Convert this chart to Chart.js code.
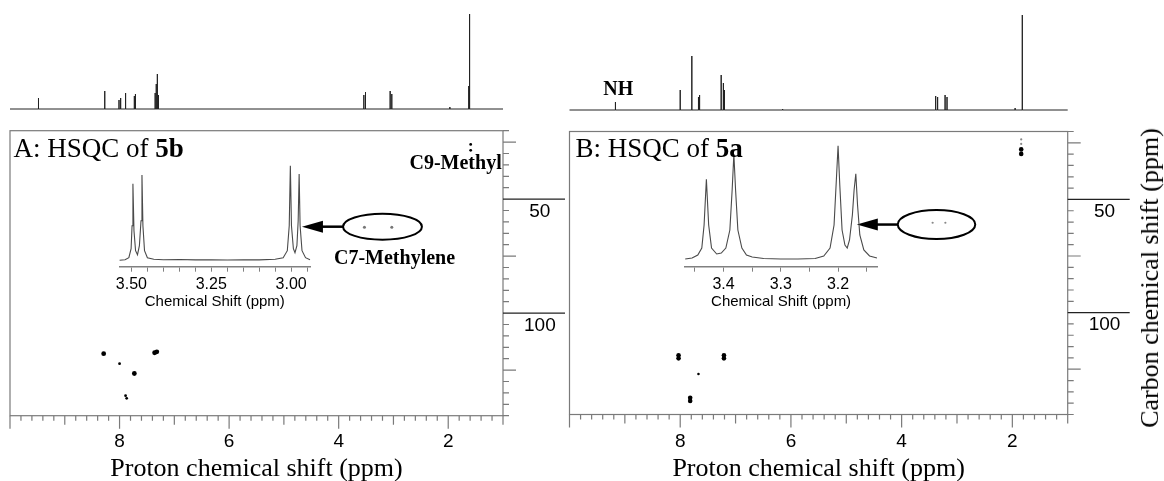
<!DOCTYPE html>
<html>
<head>
<meta charset="utf-8">
<script src="https://cdn.jsdelivr.net/npm/chart.js@4.4.0/dist/chart.umd.min.js"></script>
<style>
  body { margin: 0; background: #fff; width: 1164px; height: 481px; position: relative; overflow: hidden; }
  canvas { position: absolute; }
  .lbl { position: absolute; font-family: 'Liberation Serif', 'Times New Roman', serif; color: #000; white-space: nowrap; line-height: 1; }
  .bold { font-weight: bold; }
</style>
</head>
<body>
<canvas id="topA" style="left:0;top:0" width="580" height="120"></canvas>
<canvas id="topB" style="left:560px;top:0" width="585" height="120"></canvas>
<canvas id="hsqcA" style="left:0;top:119px" width="580" height="362"></canvas>
<canvas id="hsqcB" style="left:560px;top:119px" width="585" height="362"></canvas>
<canvas id="insetA" style="left:100px;top:150px" width="230" height="162"></canvas>
<canvas id="insetB" style="left:670px;top:130px" width="225" height="182"></canvas>

<div class="lbl" style="left:13.6px;top:134.6px;font-size:27px">A: HSQC of <span class="bold">5b</span></div>
<div class="lbl" style="left:575.4px;top:134.6px;font-size:27px">B: HSQC of <span class="bold">5a</span></div>
<div class="lbl bold" style="right:662.3px;top:152.2px;font-size:20px">C9-Methyl</div>
<div class="lbl bold" style="left:334px;top:246.6px;font-size:20px">C7-Methylene</div>
<div class="lbl bold" style="left:603.3px;top:78.2px;font-size:20px">NH</div>
<div class="lbl" style="left:1149.5px;top:277.5px;font-size:26px;transform:translate(-50%,-50%) rotate(-90deg)">Carbon chemical shift (ppm)</div>

<script>
// 1D proton spectra above the HSQC maps (ppm, peak height)
const specAShift = [9.48, 8.27, 8.01, 7.98, 7.89, 7.73, 7.71, 7.35, 7.33, 7.31, 7.29, 3.54, 3.51, 3.06, 3.03, 1.97, 1.625, 1.61];
const specAHeight = [11, 18, 9, 11, 16, 13, 15, 16, 25, 35, 14, 14, 17, 18, 15, 2, 23, 95];
const specBShift = [9.17, 8.00, 7.79, 7.67, 7.65, 7.26, 7.22, 7.20, 6.15, 3.385, 3.35, 3.215, 3.18, 1.95, 1.82];
const specBHeight = [8, 20, 54, 13, 15, 35, 27, 20, 1, 14, 13, 15, 13, 2, 95];

// HSQC cross peaks [1H ppm, 13C ppm]
const hsqcAStrong = [[8.29, 117.8], [7.73, 126.5], [7.36, 117.4], [7.32, 117.0]];
const hsqcAWeak = [[8.00, 122.2], [7.89, 136.2], [7.87, 137.4], [1.59, 28.6], [1.59, 26.0]];
const hsqcAGrey = [[3.53, 62.3], [3.03, 62.3]];
const hsqcBStrong = [[8.03, 118.8], [8.03, 120.2], [7.21, 118.8], [7.21, 120.2], [7.82, 137.6], [7.82, 139.0], [1.84, 27.9], [1.84, 29.9]];
const hsqcBWeak = [[7.67, 127.1]];
const hsqcBGrey = [[1.84, 23.5], [1.84, 25.5], [3.44, 60.3], [3.21, 60.3]];

// circled C7 region and arrow target (ppm)
const circleA = { h: 3.20, c: 62.1, dh: 0.72, dc: 5.7, arrowTo: 4.67 };
const circleB = { h: 3.37, c: 61.1, dh: 0.70, dc: 6.4, arrowTo: 4.81 };

// expanded methylene region insets (ppm, intensity)
const insetAShift = [3.537, 3.52, 3.508, 3.501, 3.498, 3.4953, 3.492, 3.487, 3.481, 3.475, 3.470, 3.467, 3.464, 3.459, 3.45, 3.43, 3.40, 3.35, 3.30, 3.25, 3.20, 3.15, 3.10, 3.05, 3.025, 3.012, 3.006, 3.0025, 2.999, 2.993, 2.988, 2.982, 2.978, 2.975, 2.972, 2.966, 2.955, 2.941];
const insetAInt = [0.5, 1, 3, 12, 35, 77, 30, 10, 6, 15, 40, 85.7, 35, 10, 3, 1.5, 1, 1.2, 0.8, 1, 0.7, 1, 0.8, 1.5, 3, 10, 35, 95, 35, 12, 8, 15, 40, 86.7, 35, 10, 3, 1];
const insetBShift = [3.467, 3.455, 3.445, 3.438, 3.434, 3.430, 3.426, 3.421, 3.412, 3.404, 3.396, 3.389, 3.385, 3.382, 3.379, 3.375, 3.368, 3.36, 3.35, 3.33, 3.30, 3.27, 3.24, 3.225, 3.214, 3.207, 3.203, 3.200, 3.197, 3.193, 3.188, 3.184, 3.180, 3.175, 3.172, 3.169, 3.166, 3.162, 3.155, 3.145, 3.132];
const insetBInt = [1, 2, 5, 12, 35, 80.7, 35, 12, 6, 7, 12, 30, 70, 105.7, 70, 30, 12, 5, 3, 1.5, 1, 1, 1.5, 4, 12, 35, 80, 114.3, 75, 30, 15, 12, 20, 45, 70, 86.3, 55, 25, 10, 4, 2];

const SANS = "'Liberation Sans', Arial, sans-serif";
const SERIF = "'Liberation Serif', 'Times New Roman', serif";
Chart.defaults.font.family = SANS;
Chart.defaults.color = '#000';
Chart.defaults.animation = false;
Chart.defaults.plugins.legend.display = false;
Chart.defaults.plugins.tooltip.enabled = false;

const toPts = arr => arr.map(p => ({ x: p[0], y: p[1] }));

// stick spectrum: baseline with a vertical line per peak
function sticks(shift, height) {
  const pts = [{ x: 10, y: 0 }];
  shift.forEach((s, i) => pts.push({ x: s, y: 0 }, { x: s, y: height[i] }, { x: s, y: 0 }));
  pts.push({ x: 1, y: 0 });
  return pts;
}

function makeSpectrum(id, pts, pad) {
  return new Chart(document.getElementById(id), {
    type: 'scatter',
    data: { datasets: [{ data: pts, showLine: true, pointRadius: 0, borderColor: '#222', borderWidth: 1, clip: false }] },
    options: {
      responsive: false,
      layout: { padding: pad },
      scales: {
        x: { display: false, type: 'linear', reverse: true, min: 1, max: 10 },
        y: { display: false, min: 0, max: 95 }
      }
    }
  });
}

// frame, NMR style tick marks and the ellipse/arrow note
const nmrAxes = {
  id: 'nmrAxes',
  afterDraw(chart, args, opts) {
    const { ctx, chartArea: a, scales: { x, y } } = chart;
    ctx.save();
    ctx.lineWidth = 1.2;
    ctx.strokeStyle = '#7a7a7a';
    ctx.strokeRect(a.left, a.top, a.right - a.left, a.bottom - a.top);
    ctx.beginPath();
    for (const t of x.ticks) {
      const px = x.getPixelForValue(t.value);
      const r = Math.round(t.value);
      const len = Math.abs(t.value - r) > 1e-6 ? 5 : (r % 2 === 0 ? 13 : 9);
      ctx.moveTo(px, a.bottom);
      ctx.lineTo(px, a.bottom + len);
    }
    for (const t of y.ticks) {
      if (t.value % 50 === 0) continue;
      const py = y.getPixelForValue(t.value);
      ctx.moveTo(a.right, py);
      ctx.lineTo(a.right + (t.value % 25 === 0 ? 13 : 6), py);
    }
    ctx.stroke();
    ctx.strokeStyle = '#222';
    ctx.beginPath();
    for (const t of y.ticks) {
      if (t.value % 50 !== 0) continue;
      const py = y.getPixelForValue(t.value);
      ctx.moveTo(a.right, py);
      ctx.lineTo(a.right + 62, py);
    }
    ctx.stroke();

    const n = opts.note;
    if (n) {
      const cx = x.getPixelForValue(n.h), cy = y.getPixelForValue(n.c);
      const rx = Math.abs(x.getPixelForValue(n.h + n.dh) - cx);
      const ry = Math.abs(y.getPixelForValue(n.c + n.dc) - cy);
      ctx.strokeStyle = '#000';
      ctx.fillStyle = '#000';
      ctx.lineWidth = 2;
      ctx.beginPath();
      ctx.ellipse(cx, cy, rx, ry, 0, 0, Math.PI * 2);
      ctx.stroke();
      const tip = x.getPixelForValue(n.arrowTo);
      ctx.lineWidth = 2.5;
      ctx.beginPath();
      ctx.moveTo(cx - rx, cy);
      ctx.lineTo(tip + 18, cy);
      ctx.stroke();
      ctx.beginPath();
      ctx.moveTo(tip, cy);
      ctx.lineTo(tip + 21, cy - 6);
      ctx.lineTo(tip + 21, cy + 6);
      ctx.closePath();
      ctx.fill();
    }
    ctx.restore();
  }
};

// tick label gaps are set through tickLength (grid hidden) so that
// ticks.padding does not push the chart area inwards
function makeHsqc(id, sets, note, pad, axisH, axisW, labelGap) {
  return new Chart(document.getElementById(id), {
    type: 'scatter',
    data: { datasets: sets },
    options: {
      responsive: false,
      layout: { padding: pad },
      scales: {
        x: {
          type: 'linear', reverse: true, min: 1, max: 10,
          afterFit: s => { s.height = axisH; },
          grid: { display: false, drawTicks: true, tickLength: labelGap },
          border: { display: false },
          ticks: {
            stepSize: 0.2, autoSkip: false, maxRotation: 0, padding: 0, font: { size: 19 },
            callback: v => {
              const r = Math.round(v);
              return Math.abs(v - r) < 1e-6 && r % 2 === 0 && r > 0 && r < 10 ? String(r) : '';
            }
          },
          title: { display: true, text: 'Proton chemical shift (ppm)', font: { family: SERIF, size: 26, lineHeight: 0.92 }, padding: 0 }
        },
        y: {
          type: 'linear', position: 'right', reverse: true, min: 20, max: 145,
          afterFit: s => { s.width = axisW; },
          grid: { display: false, drawTicks: true, tickLength: 21 },
          border: { display: false },
          ticks: {
            stepSize: 5, autoSkip: false, padding: 0, crossAlign: 'center', labelOffset: 12.5, font: { size: 19 },
            callback: v => (v % 50 === 0 ? String(v) : '')
          }
        }
      },
      plugins: { nmrAxes: { note } }
    },
    plugins: [nmrAxes]
  });
}

function dotSet(arr, r, color) {
  return { data: toPts(arr), pointRadius: r, pointBackgroundColor: color, pointBorderWidth: 0, showLine: false };
}

function makeInset(id, shift, inten, range, yRange, labelFn, pad, axisH) {
  const pts = shift.map((s, i) => ({ x: s, y: inten[i] }));
  return new Chart(document.getElementById(id), {
    type: 'scatter',
    data: { datasets: [{ data: pts, showLine: true, pointRadius: 0, borderColor: '#4a4a4a', borderWidth: 1.1, clip: false }] },
    options: {
      responsive: false,
      layout: { padding: pad },
      scales: {
        x: {
          type: 'linear', reverse: true, min: range[0], max: range[1],
          afterFit: s => { s.height = axisH; },
          grid: { drawOnChartArea: false, drawTicks: true, tickLength: 5, color: '#808080', lineWidth: 1 },
          border: { display: true, color: '#808080', width: 1.5 },
          ticks: { stepSize: 0.05, includeBounds: false, autoSkip: false, maxRotation: 0, padding: 3.7, font: { size: 16 }, callback: labelFn },
          title: { display: true, text: 'Chemical Shift (ppm)', font: { size: 15 }, padding: { top: 0, bottom: 1 } }
        },
        y: { display: false, min: yRange[0], max: yRange[1] }
      }
    }
  });
}

makeSpectrum('topA', sticks(specAShift, specAHeight), { left: 10, right: 77, top: 14, bottom: 11 });
makeSpectrum('topB', sticks(specBShift, specBHeight), { left: 9.5, right: 77.3, top: 15, bottom: 10 });

makeHsqc('hsqcA', [
  dotSet(hsqcAStrong, 2.4, '#000'),
  dotSet(hsqcAWeak, 1.4, '#000'),
  dotSet(hsqcAGrey, 1.5, '#777')
], circleA, { left: 10, top: 11.7, right: 0, bottom: 0 }, 65.3, 77, 14.6);

makeHsqc('hsqcB', [
  dotSet(hsqcBStrong, 2.3, '#000'),
  dotSet(hsqcBWeak, 1.3, '#000'),
  dotSet(hsqcBGrey, 1.1, '#888')
], circleB, { left: 9.5, top: 12.5, right: 0, bottom: 0 }, 66.5, 77.3, 15.8);

makeInset('insetA', insetAShift, insetAInt, [2.941, 3.537], [-6, 95],
  v => (Math.abs(v * 4 - Math.round(v * 4)) < 1e-6 ? v.toFixed(2) : ''),
  { left: 19.6, right: 20, top: 15.7, bottom: 0 }, 45.3);

makeInset('insetB', insetBShift, insetBInt, [3.132, 3.467], [-6.7, 114.3],
  v => (Math.abs(v * 10 - Math.round(v * 10)) < 1e-6 ? v.toFixed(1) : ''),
  { left: 15.2, right: 18, top: 15.7, bottom: 0 }, 45.3);
</script>
</body>
</html>
